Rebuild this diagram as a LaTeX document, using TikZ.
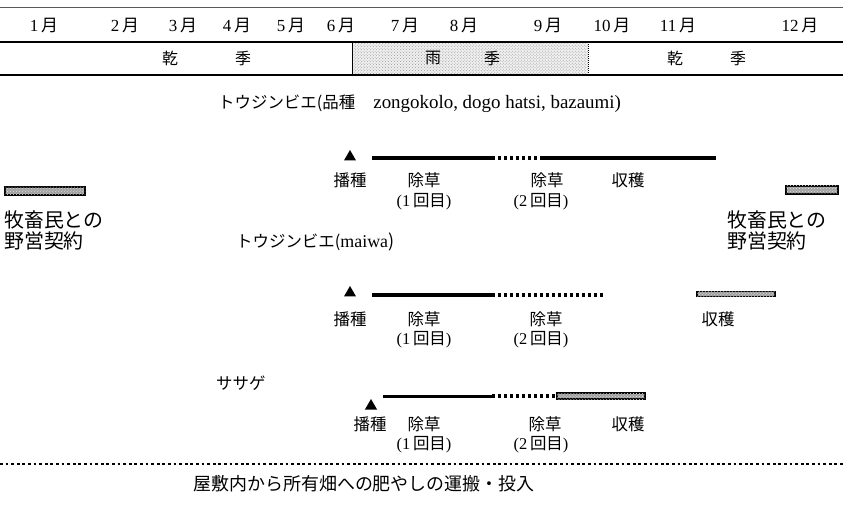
\documentclass[tikz,border=0pt]{standalone}
\usepackage{fontspec}
\setmainfont{Liberation Serif}
\newfontfamily\jpf{Noto Sans CJK JP}
\newcommand{\J}[1]{{\jpf #1}}
\usetikzlibrary{patterns,shapes.geometric}
\begin{document}
\begin{tikzpicture}[x=1bp,y=-1bp,
  mon/.style={inner sep=0pt,font=\fontsize{17}{17}\selectfont},
  sea/.style={inner sep=0pt,font=\jpf\fontsize{16}{16}\selectfont},
  lbl/.style={inner sep=0pt,font=\fontsize{16.5}{16.5}\selectfont},
  ttl/.style={inner sep=0pt,anchor=west,font=\fontsize{16.5}{16.5}\selectfont},
  tri/.style={regular polygon,regular polygon sides=3,fill=black,inner sep=0pt,minimum size=14bp},
  seg/.style={line width=3.5bp},
  dotseg/.style={line width=3.5bp,dash pattern=on 3bp off 3bp},
  hbar/.style={draw=black,line width=1.3bp,inner sep=0pt,fill=gray!75,
    postaction={pattern=crosshatch dots,pattern color=gray!20}},
  rule/.style={line width=1.5bp}
]
\useasboundingbox (0,0) rectangle (843,507);
% header rules
\coordinate (t0) at (0,7); \coordinate (t1) at (843,7);
\coordinate (m0) at (0,42); \coordinate (m1) at (843,42);
\coordinate (b0) at (0,75); \coordinate (b1) at (843,75);
\fill[gray!12] (352,42) rectangle (588,75);
\fill[pattern=crosshatch dots,pattern color=gray!80] (352,42) rectangle (588,75);
\draw[line width=0.7bp,gray!70!black] (t0) -- (t1);
\draw[rule] (m0) -- (m1);
\draw[rule] (b0) -- (b1);
\draw[line width=1bp] (352,42) -- (352,75);
\draw[line width=1bp,densely dotted] (588,42) -- (588,75);
% months
\node[mon] (jan) at (44,26) {1\,\J{月}};
\node[mon] (feb) at (125,26) {2\,\J{月}};
\node[mon] (mar) at (183,26) {3\,\J{月}};
\node[mon] (apr) at (237,26) {4\,\J{月}};
\node[mon] (may) at (291,26) {5\,\J{月}};
\node[mon] (jun) at (341,26) {6\,\J{月}};
\node[mon] (jul) at (405,26) {7\,\J{月}};
\node[mon] (aug) at (464,26) {8\,\J{月}};
\node[mon] (sep) at (548,26) {9\,\J{月}};
\node[mon] (oct) at (612,26) {10\,\J{月}};
\node[mon] (nov) at (678,26) {11\,\J{月}};
\node[mon] (dec) at (800,26) {12\,\J{月}};
% seasons
\node[sea] (d1a) at (170,58) {乾};
\node[sea] (d1b) at (243,58) {季};
\node[sea] (r1a) at (433,58) {雨};
\node[sea] (r1b) at (492,58) {季};
\node[sea] (d2a) at (675,58) {乾};
\node[sea] (d2b) at (738,58) {季};
% herder contracts
\node[hbar,minimum width=80bp,minimum height=8bp] (lbar) at (45,191) {};
\node[hbar,minimum width=52bp,minimum height=8bp] (rbar) at (812,190) {};
\node[lbl,anchor=north west,align=left,font=\jpf\fontsize{20}{21}\selectfont] (lcon) at (4,211) {牧畜民との\\野営契約};
\node[lbl,anchor=north west,align=left,font=\jpf\fontsize{20}{21}\selectfont] (rcon) at (727,211) {牧畜民との\\野営契約};
% row 1
\node[ttl] (ti1) at (218,104) {\J{トウジンビエ(品種}\hspace{1.1em}\fontsize{19}{19}\selectfont zongokolo, dogo hatsi, bazaumi)};
\node[tri] (s1) at (350,157) {};
\coordinate (a1) at (372,158); \coordinate (b1a) at (492,158);
\coordinate (c1) at (540,158); \coordinate (d1) at (716,158);
\draw[seg] (a1) -- (b1a);
\draw[dotseg] (b1a) -- (c1);
\draw[seg] (c1) -- (d1);
\node[lbl] (sow1) at (350,180) {\J{播種}};
\node[lbl] (w11) at (424,180) {\J{除草}};
\node[lbl] (w21) at (547,180) {\J{除草}};
\node[lbl] (h1) at (628,180) {\J{収穫}};
\node[lbl] (n11) at (424,202) {(1\,\J{回目})};
\node[lbl] (n21) at (541,202) {(2\,\J{回目})};
% row 2
\node[ttl] (ti2) at (236,242) {\J{トウジンビエ(}\fontsize{18}{18}\selectfont maiwa\J{)}};
\node[tri] (s2) at (350,293) {};
\coordinate (a2) at (372,295); \coordinate (b2) at (492,295);
\coordinate (c2) at (605,295);
\draw[seg] (a2) -- (b2);
\draw[dotseg] (b2) -- (c2);
\node[hbar,minimum width=78bp,minimum height=5bp] (hb2) at (736,294) {};
\node[lbl] (sow2) at (350,319) {\J{播種}};
\node[lbl] (w12) at (424,319) {\J{除草}};
\node[lbl] (w22) at (546,319) {\J{除草}};
\node[lbl] (h2) at (718,319) {\J{収穫}};
\node[lbl] (n12) at (424,340) {(1\,\J{回目})};
\node[lbl] (n22) at (541,340) {(2\,\J{回目})};
% row 3
\node[ttl] (ti3) at (216,383) {\J{ササゲ}};
\node[tri] (s3) at (371,406) {};
\coordinate (a3) at (383,396); \coordinate (b3) at (492,396);
\coordinate (c3) at (557,396);
\draw[line width=3bp] (a3) -- (b3);
\draw[dotseg] (b3) -- (c3);
\node[hbar,minimum width=88bp,minimum height=6bp] (hb3) at (601,396) {};
\node[lbl] (sow3) at (370,424) {\J{播種}};
\node[lbl] (w13) at (424,424) {\J{除草}};
\node[lbl] (w23) at (545,424) {\J{除草}};
\node[lbl] (h3) at (628,424) {\J{収穫}};
\node[lbl] (n13) at (424,445) {(1\,\J{回目})};
\node[lbl] (n23) at (541,445) {(2\,\J{回目})};
% bottom
\coordinate (e0) at (0,464); \coordinate (e1) at (843,464);
\draw[line width=2.8bp,dash pattern=on 2.8bp off 2.8bp] (e0) -- (e1);
\node[lbl,font=\jpf\fontsize{18}{18}\selectfont] (foot) at (364,484) {屋敷内から所有畑への肥やしの運搬・投入};
\end{tikzpicture}
\end{document}
